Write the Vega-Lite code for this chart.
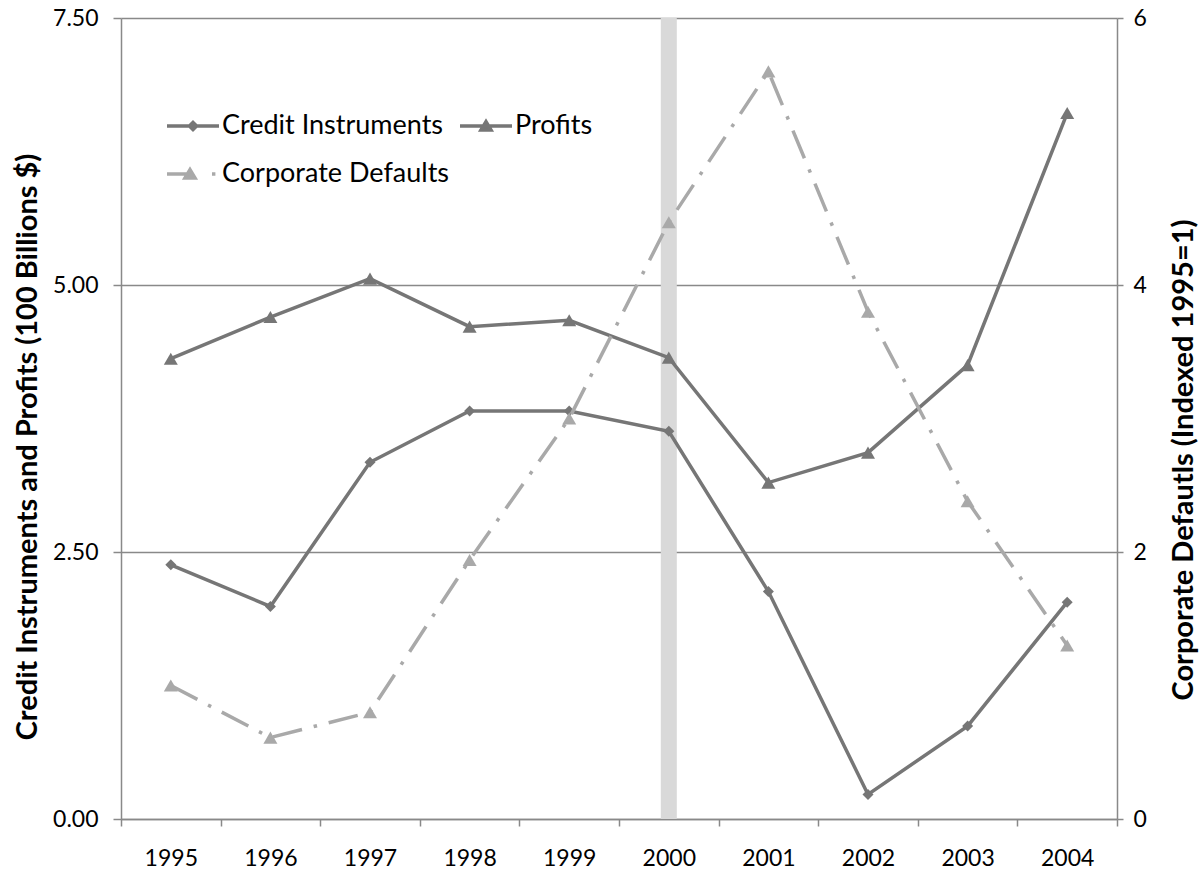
{
  "$schema": "https://vega.github.io/schema/vega-lite/v6.json",
  "width": 996,
  "height": 801,
  "autosize": "none",
  "padding": {"left": 121, "top": 18, "right": 87, "bottom": 55},
  "background": "white",
  "config": {"view": {"stroke": null}, "font": "Lato"},
  "data": {"values": [
    {"year": "1995", "series": "Credit Instruments", "value": 2.38},
    {"year": "1996", "series": "Credit Instruments", "value": 1.99},
    {"year": "1997", "series": "Credit Instruments", "value": 3.34},
    {"year": "1998", "series": "Credit Instruments", "value": 3.82},
    {"year": "1999", "series": "Credit Instruments", "value": 3.82},
    {"year": "2000", "series": "Credit Instruments", "value": 3.63},
    {"year": "2001", "series": "Credit Instruments", "value": 2.13},
    {"year": "2002", "series": "Credit Instruments", "value": 0.23},
    {"year": "2003", "series": "Credit Instruments", "value": 0.87},
    {"year": "2004", "series": "Credit Instruments", "value": 2.03},
    {"year": "1995", "series": "Profits", "value": 4.31},
    {"year": "1996", "series": "Profits", "value": 4.70},
    {"year": "1997", "series": "Profits", "value": 5.06},
    {"year": "1998", "series": "Profits", "value": 4.61},
    {"year": "1999", "series": "Profits", "value": 4.67},
    {"year": "2000", "series": "Profits", "value": 4.32},
    {"year": "2001", "series": "Profits", "value": 3.15},
    {"year": "2002", "series": "Profits", "value": 3.43},
    {"year": "2003", "series": "Profits", "value": 4.25},
    {"year": "2004", "series": "Profits", "value": 6.61},
    {"year": "1995", "series": "Corporate Defaults", "value": 1.00},
    {"year": "1996", "series": "Corporate Defaults", "value": 0.61},
    {"year": "1997", "series": "Corporate Defaults", "value": 0.80},
    {"year": "1998", "series": "Corporate Defaults", "value": 1.94},
    {"year": "1999", "series": "Corporate Defaults", "value": 3.00},
    {"year": "2000", "series": "Corporate Defaults", "value": 4.47},
    {"year": "2001", "series": "Corporate Defaults", "value": 5.60},
    {"year": "2002", "series": "Corporate Defaults", "value": 3.80},
    {"year": "2003", "series": "Corporate Defaults", "value": 2.38},
    {"year": "2004", "series": "Corporate Defaults", "value": 1.30}
  ]},
  "layer": [
    {
      "data": {"values": [{"year": "2000"}]},
      "mark": {"type": "rule", "color": "#d9d9d9", "strokeWidth": 16},
      "encoding": {
        "x": {
          "field": "year", "type": "ordinal", "bandPosition": 0.5,
          "scale": {"type": "band", "paddingInner": 0, "paddingOuter": 0, "domain": ["1995","1996","1997","1998","1999","2000","2001","2002","2003","2004"]},
          "axis": {
            "title": null, "labelAngle": 0, "tickBand": "extent", "tickSize": 7,
            "tickColor": "#898989", "domainColor": "#898989", "domainWidth": 1.5, "tickWidth": 1.5,
            "labelFontSize": 23, "labelColor": "black", "labelPadding": 21, "grid": false
          }
        }
      }
    },
    {
      "layer": [
        {
          "transform": [{"filter": "datum.series === 'Credit Instruments'"}],
          "mark": {"type": "line", "strokeWidth": 3.5, "point": {"shape": "diamond", "filled": true, "size": 121, "opacity": 1}},
          "encoding": {
            "x": {"field": "year", "type": "ordinal", "bandPosition": 0.5},
            "y": {
              "field": "value", "type": "quantitative",
              "scale": {"domain": [0, 7.5], "nice": false, "zero": true},
              "axis": {
                "orient": "left", "values": [0, 2.5, 5, 7.5], "format": ".2f",
                "grid": true, "gridColor": "#898989", "gridWidth": 1.5,
                "domainColor": "#898989", "domainWidth": 1.5, "tickColor": "#898989", "tickWidth": 1.5, "tickSize": 8,
                "labelFontSize": 23, "labelColor": "black", "labelPadding": 15,
                "title": "Credit Instruments and Profits (100 Billions $)",
                "titleFontSize": 29, "titleFontWeight": "bold", "titleColor": "black",
                "titleAngle": 270, "titleX": -94, "titleY": 428.5, "titleAlign": "center", "titleBaseline": "middle"
              }
            },
            "color": {
              "field": "series", "type": "nominal",
              "scale": {"domain": ["Credit Instruments", "Profits", "Corporate Defaults"], "range": ["#767676", "#767676", "#a9a9a9"]},
              "legend": {
                "title": null, "orient": "none", "legendX": 50, "legendY": 86,
                "direction": "horizontal", "columns": 2, "padding": 0, "offset": 0,
                "values": ["Credit Instruments", "Profits", "Corporate Defaults"],
                "rowPadding": 13, "columnPadding": 3, "labelOffset": 7,
                "symbolSize": 1600, "symbolStrokeWidth": 3.5,
                "labelFontSize": 27, "labelColor": "black", "labelLimit": 500,
                "encode": {
                  "symbols": {
                    "update": {
                      "shape": {"signal": "datum.value === 'Credit Instruments' ? 'M-1.3,0H1.3M0,-0.18L0.18,0L0,0.18L-0.18,0Z' : (datum.value === 'Profits' ? 'M-1.3,0H1.3M0,-0.22L0.25,0.2L-0.25,0.2Z' : 'M-1.3,0H-0.3M-0.15,-0.22L0.1,0.2L-0.4,0.2ZM0.95,0H1.12')"},
                      "fill": {"signal": "datum.value === 'Corporate Defaults' ? '#a9a9a9' : '#767676'"},
                      "stroke": {"signal": "datum.value === 'Corporate Defaults' ? '#a9a9a9' : '#767676'"},
                      "strokeWidth": {"value": 3.5},
                      "strokeDash": {"value": []},
                      "opacity": {"value": 1}
                    }
                  }
                }
              }
            }
          }
        },
        {
          "transform": [{"filter": "datum.series === 'Profits'"}],
          "mark": {"type": "line", "strokeWidth": 3.5, "point": {"shape": "triangle-up", "filled": true, "size": 196, "opacity": 1}},
          "encoding": {
            "x": {"field": "year", "type": "ordinal", "bandPosition": 0.5},
            "y": {"field": "value", "type": "quantitative"},
            "color": {"field": "series", "type": "nominal"}
          }
        }
      ]
    },
    {
      "transform": [{"filter": "datum.series === 'Corporate Defaults'"}],
      "mark": {"type": "line", "strokeWidth": 3.5, "strokeDash": [30, 12, 3.5, 12], "point": {"shape": "triangle-up", "filled": true, "size": 196, "opacity": 1}},
      "encoding": {
        "x": {"field": "year", "type": "ordinal", "bandPosition": 0.5},
        "y": {
          "field": "value", "type": "quantitative",
          "scale": {"domain": [0, 6], "nice": false, "zero": true},
          "axis": {
            "orient": "right", "values": [0, 2, 4, 6], "grid": false,
            "domainColor": "#898989", "domainWidth": 1.5, "tickColor": "#898989", "tickWidth": 1.5, "tickSize": 6,
            "labelFontSize": 23, "labelColor": "black", "labelPadding": 10,
            "title": "Corporate Defautls (Indexed 1995=1)",
            "titleFontSize": 29, "titleFontWeight": "bold", "titleColor": "black",
            "titleAngle": 270, "titleX": 66, "titleY": 441.5, "titleAlign": "center", "titleBaseline": "middle"
          }
        },
        "color": {"field": "series", "type": "nominal"}
      }
    }
  ],
  "resolve": {"scale": {"y": "independent"}, "axis": {"y": "independent"}}
}
